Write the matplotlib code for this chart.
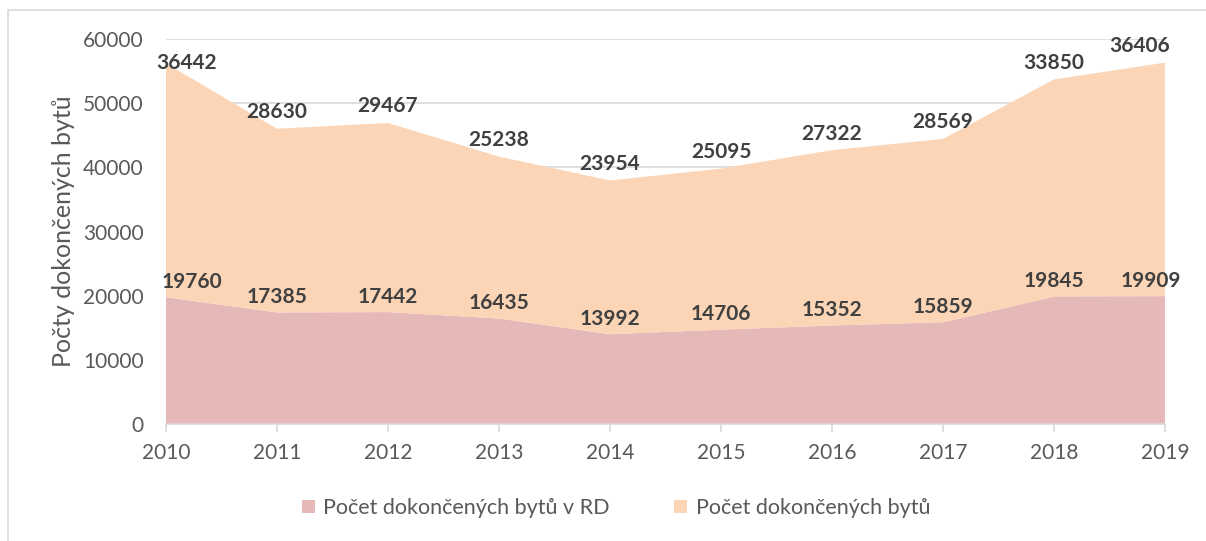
import matplotlib
matplotlib.use("Agg")
import matplotlib.pyplot as plt
from matplotlib.patches import Rectangle

plt.rcParams["font.family"] = ["Lato", "DejaVu Sans"]

YEARS: list[int] = [2010, 2011, 2012, 2013, 2014, 2015, 2016, 2017, 2018, 2019]
BYTY_RD: list[int] = [19760, 17385, 17442, 16435, 13992, 14706, 15352, 15859, 19845, 19909]
BYTY: list[int] = [36442, 28630, 29467, 25238, 23954, 25095, 27322, 28569, 33850, 36406]
Y_TICKS: list[int] = [0, 10000, 20000, 30000, 40000, 50000, 60000]

C_RD = "#E6B8B7"
C_ALL = "#FBD5B5"
GRID = "#D9D9D9"
TXT = "#595959"
LBL = "#404040"

fig = plt.figure(figsize=(12.06, 5.41), dpi=100)
fig.patches.append(Rectangle((8 / 1206, -0.1), 1.2, 1 - 10 / 541 + 0.1,
                             transform=fig.transFigure, fill=False,
                             edgecolor=GRID, linewidth=1.2))
ax = fig.add_axes([166 / 1206, 1 - 424 / 541, (1165 - 166) / 1206, (424 - 39) / 541])

ax.stackplot(YEARS, BYTY_RD, BYTY, colors=[C_RD, C_ALL], zorder=2,
             labels=["Počet dokončených bytů v RD", "Počet dokončených bytů"])
ax.set_xlim(YEARS[0], YEARS[-1])
ax.set_ylim(0, 60000)
ax.set_yticks(Y_TICKS)
ax.set_xticks(YEARS)
ax.grid(axis="y", color=GRID, linewidth=1.2, zorder=0)
ax.set_axisbelow(True)
for s in ["top", "right", "left"]:
    ax.spines[s].set_visible(False)
ax.spines["bottom"].set_color(GRID)
ax.spines["bottom"].set_linewidth(1.2)
ax.spines["bottom"].set_zorder(3)
ax.tick_params(axis="y", length=0, pad=16, labelsize=15, labelcolor=TXT)
ax.tick_params(axis="x", length=6, color=GRID, width=1.2, pad=8,
               labelsize=15, labelcolor=TXT)
ax.set_ylabel("Počty dokončených bytů", fontsize=18, color=TXT, labelpad=6)

n = len(YEARS)
for i, (yr, rd, b) in enumerate(zip(YEARS, BYTY_RD, BYTY)):
    dx = 15 if i == 0 else (-18 if i == n - 1 else 0)
    dy_top = 0 if i == 0 else 12
    ax.annotate(f"{b}", (yr, rd + b), xytext=(dx, dy_top), textcoords="offset points",
                ha="center", va="center", fontsize=15, fontweight="bold",
                color=LBL, zorder=5, annotation_clip=False)
    dx2 = 19 if i == 0 else (-10 if i == n - 1 else 0)
    ax.annotate(f"{rd}", (yr, rd), xytext=(dx2, 11), textcoords="offset points",
                ha="center", va="center", fontsize=15, fontweight="bold",
                color=LBL, zorder=5, annotation_clip=False)

fig.legend(loc="center", bbox_to_anchor=(616 / 1206, 1 - 508 / 541), ncol=2,
           frameon=False, fontsize=15.5, labelcolor=TXT, handlelength=0.6,
           handleheight=0.6, columnspacing=3, handletextpad=0.4)

fig.savefig("out.png", dpi=100)
